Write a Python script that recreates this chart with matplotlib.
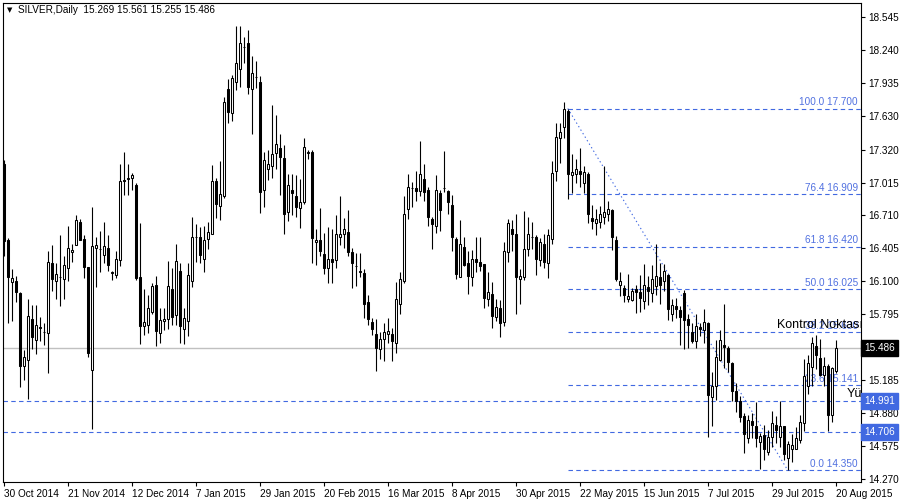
import matplotlib
matplotlib.use("Agg")
import matplotlib.pyplot as plt
import numpy as np

# SILVER daily OHLC, 30 Oct 2014 .. 20 Aug 2015
opens = [
    17.19, 16.48, 16.09, 16.10, 15.99, 15.32, 15.37, 15.75, 15.56, 15.68,
    15.63, 15.62, 16.27, 16.10, 16.14, 16.12, 16.22, 16.37, 16.44, 16.65,
    16.49, 16.23, 15.28, 16.41, 16.40, 16.34, 16.41, 16.18, 16.16, 16.30,
    17.04, 17.05, 17.06, 16.99, 16.14, 15.69, 15.70, 15.82, 16.07, 15.62,
    15.73, 15.75, 16.03, 15.79, 16.20, 15.66, 15.73, 16.10, 16.51, 16.51,
    16.31, 16.49, 16.54, 17.03, 16.80, 16.89, 17.88, 17.66, 17.95, 18.07,
    18.27, 18.31, 17.88, 17.99, 17.95, 16.95, 17.14, 17.17, 17.29, 17.33,
    17.24, 16.74, 16.95, 16.89, 16.78, 16.83, 17.29, 17.30, 16.46, 16.48,
    16.35, 16.22, 16.31, 16.30, 16.51, 16.54, 16.56, 16.37, 16.24, 16.19,
    16.18, 15.91, 15.72, 15.61, 15.47, 15.57, 15.61, 15.61, 15.53, 15.89,
    16.10, 16.77, 16.96, 16.96, 16.94, 17.05, 16.95, 16.68, 16.61, 16.92,
    16.96, 16.94, 16.81, 16.49, 16.14, 16.42, 16.27, 16.14, 16.31, 16.28,
    16.26, 15.94, 15.98, 15.77, 15.85, 15.72, 16.37, 16.58, 16.54, 16.12,
    16.14, 16.40, 16.51, 16.51, 16.30, 16.45, 16.27, 16.49, 17.12, 17.43,
    17.53, 17.68, 17.08, 17.09, 17.12, 17.01, 17.09, 16.69, 16.64, 16.65,
    16.70, 16.72, 16.76, 16.48, 16.07, 16.04, 15.94, 15.93, 16.03, 16.00,
    15.92, 16.05, 15.99, 16.06, 16.14, 16.10, 16.16, 15.80, 15.87, 15.83,
    15.99, 15.75, 15.63, 15.55, 15.68, 15.65, 15.71, 15.03, 15.13, 15.37,
    15.51, 15.48, 15.34, 15.08, 14.99, 14.85, 14.65, 14.81, 14.76, 14.61,
    14.68, 14.52, 14.66, 14.77, 14.66, 14.76, 14.46, 14.55, 14.55, 14.63,
    14.79, 15.13, 15.31, 15.50, 15.39, 15.23, 15.32, 14.86, 15.269,
]
highs = [
    17.22, 16.50, 16.21, 16.15, 16.00, 15.46, 15.94, 15.88, 15.88, 15.77,
    15.71, 16.38, 16.44, 16.27, 16.53, 16.33, 16.61, 16.45, 16.71, 16.68,
    16.53, 16.23, 16.79, 16.51, 16.57, 16.65, 16.53, 16.20, 16.38, 17.19,
    17.30, 17.19, 17.10, 17.01, 16.64, 16.03, 15.97, 16.08, 16.15, 15.85,
    15.85, 16.29, 16.22, 16.45, 16.27, 15.85, 16.27, 16.70, 16.63, 16.60,
    16.61, 16.65, 17.18, 17.06, 17.21, 17.81, 17.97, 18.01, 18.46, 18.46,
    18.36, 18.43, 18.19, 18.14, 18.00, 17.30, 17.32, 17.73, 17.64, 17.46,
    17.36, 17.09, 17.09, 17.08, 17.05, 17.43, 17.32, 17.32, 16.58, 16.78,
    16.55, 16.60, 16.58, 16.71, 16.89, 16.69, 16.76, 16.41, 16.36, 16.36,
    16.21, 15.97, 15.76, 15.75, 15.63, 15.71, 15.76, 15.67, 16.09, 16.19,
    16.89, 17.09, 17.02, 17.12, 17.40, 17.19, 16.97, 16.70, 17.08, 16.95,
    17.31, 16.95, 16.90, 16.51, 16.67, 16.51, 16.38, 16.39, 16.51, 16.51,
    16.26, 16.19, 16.09, 15.94, 15.93, 16.46, 16.68, 16.67, 16.72, 16.21,
    16.75, 16.70, 16.65, 16.53, 16.50, 16.54, 16.58, 17.21, 17.57, 17.57,
    17.76, 17.70, 17.28, 17.23, 17.33, 17.17, 17.11, 16.81, 16.77, 16.80,
    17.17, 16.84, 16.77, 16.52, 16.19, 16.07, 16.17, 16.04, 16.07, 16.16,
    16.26, 16.15, 16.25, 16.45, 16.27, 16.26, 16.17, 15.94, 15.95, 15.87,
    16.02, 15.80, 15.71, 15.80, 15.71, 15.84, 15.72, 15.26, 15.56, 15.65,
    15.89, 15.50, 15.35, 15.16, 15.04, 14.88, 14.86, 14.88, 14.98, 14.70,
    14.77, 14.72, 14.90, 14.85, 14.99, 14.76, 14.62, 14.69, 14.75, 14.86,
    15.38, 15.42, 15.58, 15.60, 15.57, 15.40, 15.33, 15.31, 15.561,
]
lows = [
    16.33, 15.71, 15.73, 15.91, 15.12, 15.19, 15.01, 15.47, 15.43, 15.55,
    15.51, 15.25, 16.01, 15.94, 15.87, 15.94, 16.10, 16.28, 16.44, 16.48,
    16.13, 15.40, 14.73, 16.05, 16.19, 16.27, 16.20, 16.11, 16.13, 16.24,
    16.90, 16.90, 16.95, 16.11, 15.52, 15.60, 15.62, 15.80, 15.50, 15.53,
    15.65, 15.66, 15.70, 15.70, 15.53, 15.52, 15.59, 16.05, 16.28, 16.27,
    16.19, 16.40, 16.54, 16.69, 16.67, 16.87, 17.57, 17.58, 17.87, 17.90,
    18.12, 17.83, 17.46, 17.89, 16.73, 16.79, 17.04, 17.06, 17.14, 16.90,
    16.54, 16.66, 16.71, 16.70, 16.59, 16.82, 17.23, 16.27, 16.25, 16.33,
    16.17, 16.08, 16.08, 16.22, 16.44, 16.41, 16.33, 16.04, 16.06, 16.14,
    15.76, 15.70, 15.60, 15.27, 15.38, 15.36, 15.53, 15.36, 15.44, 15.80,
    16.08, 16.68, 16.79, 16.84, 16.89, 16.84, 16.61, 16.40, 16.55, 16.57,
    16.93, 16.72, 16.38, 16.12, 16.14, 16.24, 15.98, 16.06, 16.19, 16.20,
    15.85, 15.87, 15.67, 15.73, 15.58, 15.69, 16.28, 16.38, 15.80, 15.89,
    16.11, 16.33, 16.40, 16.16, 16.24, 16.22, 16.13, 16.45, 17.03, 17.20,
    17.43, 16.86, 16.92, 17.01, 16.97, 16.92, 16.64, 16.58, 16.53, 16.59,
    16.63, 16.66, 16.39, 16.10, 15.96, 15.91, 15.91, 15.92, 15.81, 15.82,
    15.84, 15.88, 15.91, 15.97, 15.89, 16.01, 15.74, 15.73, 15.76, 15.51,
    15.47, 15.48, 15.53, 15.48, 15.59, 15.53, 14.66, 14.76, 15.00, 15.36,
    15.30, 15.26, 14.99, 14.89, 14.80, 14.51, 14.60, 14.65, 14.57, 14.36,
    14.45, 14.49, 14.57, 14.60, 14.57, 14.45, 14.35, 14.43, 14.55, 14.60,
    14.71, 15.06, 15.13, 15.29, 15.22, 15.13, 14.71, 14.80, 15.255,
]
closes = [
    16.47, 16.14, 16.13, 16.00, 15.32, 15.40, 15.78, 15.58, 15.70, 15.67,
    15.63, 16.28, 16.12, 16.17, 16.14, 16.25, 16.41, 16.39, 16.67, 16.48,
    16.23, 15.44, 16.43, 16.44, 16.40, 16.43, 16.25, 16.18, 16.31, 17.03,
    17.03, 17.05, 17.08, 16.13, 15.69, 15.72, 15.85, 16.06, 15.64, 15.74,
    15.75, 16.06, 15.77, 16.29, 15.69, 15.76, 16.16, 16.51, 16.51, 16.34,
    16.48, 16.56, 17.03, 16.82, 16.91, 17.76, 17.67, 17.98, 18.12, 18.31,
    18.27, 17.90, 18.03, 17.99, 16.93, 17.22, 17.19, 17.28, 17.37, 17.25,
    16.72, 16.99, 16.92, 16.79, 16.83, 17.34, 17.29, 16.50, 16.48, 16.38,
    16.22, 16.31, 16.28, 16.54, 16.54, 16.58, 16.37, 16.27, 16.24, 16.19,
    15.89, 15.75, 15.66, 15.48, 15.57, 15.63, 15.64, 15.55, 15.94, 16.12,
    16.72, 16.97, 16.96, 16.94, 17.09, 16.93, 16.70, 16.63, 16.95, 16.76,
    16.96, 16.83, 16.51, 16.17, 16.45, 16.25, 16.15, 16.31, 16.28, 16.24,
    15.95, 16.00, 15.78, 15.86, 15.71, 16.38, 16.64, 16.54, 16.14, 16.15,
    16.40, 16.54, 16.51, 16.31, 16.46, 16.28, 16.53, 17.10, 17.44, 17.48,
    17.70, 17.09, 17.11, 17.14, 17.09, 17.11, 16.72, 16.66, 16.68, 16.72,
    16.74, 16.77, 16.51, 16.12, 16.10, 15.97, 15.96, 16.01, 16.00, 15.95,
    16.07, 16.01, 16.12, 16.15, 16.07, 16.20, 15.84, 15.88, 15.84, 15.77,
    15.74, 15.70, 15.55, 15.69, 15.66, 15.72, 15.05, 15.13, 15.40, 15.56,
    15.49, 15.35, 15.08, 14.99, 14.84, 14.69, 14.82, 14.77, 14.65, 14.67,
    14.55, 14.66, 14.79, 14.72, 14.76, 14.50, 14.59, 14.58, 14.65, 14.80,
    15.22, 15.34, 15.53, 15.42, 15.23, 15.32, 14.86, 15.30, 15.486,
]

date_labels = [
    "30 Oct 2014", "21 Nov 2014", "12 Dec 2014", "7 Jan 2015", "29 Jan 2015",
    "20 Feb 2015", "16 Mar 2015", "8 Apr 2015", "30 Apr 2015", "22 May 2015",
    "15 Jun 2015", "7 Jul 2015", "29 Jul 2015", "20 Aug 2015",
]
price_ticks = [18.545, 18.240, 17.935, 17.630, 17.320, 17.015, 16.710, 16.405,
               16.100, 15.795, 15.185, 14.880, 14.575, 14.270]

fib_pct = [0.0, 23.6, 38.2, 50.0, 61.8, 76.4, 100.0]
fib_price = [14.350, 15.141, 15.630, 16.025, 16.420, 16.909, 17.700]
fib_start_bar = 141
fib_end_bar = 196
last_price = 15.486
level_lines = [14.991, 14.706]

BLUE = "#4169e1"
plt.rcParams["font.family"] = ["Liberation Sans", "DejaVu Sans"]

o = np.array(opens)
h = np.array(highs)
l = np.array(lows)
c = np.array(closes)
x = np.arange(len(o))

fig = plt.figure(figsize=(9, 5), dpi=100)
ax = fig.add_axes([3 / 900, 18 / 500, 858 / 900, 479 / 500])
ax.set_xlim(-0.2, -0.2 + 858 / 4)
ax.set_ylim(14.242, 18.677)

# level lines
ax.axhline(last_price, color="#c0c0c0", lw=1, zorder=1)
for lv in level_lines:
    ax.axhline(lv, color=BLUE, lw=0.8, ls=(0, (4, 3)), zorder=1)

# fibonacci retracement
x_right = ax.get_xlim()[1]
ax.hlines(fib_price, fib_start_bar, x_right, color=BLUE, lw=0.8, ls=(0, (4, 3)), zorder=1)
ax.plot([fib_start_bar, fib_end_bar], [fib_price[-1], fib_price[0]],
        color=BLUE, lw=0.8, ls=(0, (1.2, 2.5)), zorder=1)
for pct, pr in zip(fib_pct, fib_price):
    ax.text(x_right - 0.8, pr + 0.012, f"{pct:.1f} {pr:.3f}", color="#5070e0",
            fontsize=7.2, ha="right", va="bottom", zorder=2)

# candles
up = c >= o
ax.vlines(x, l, h, color="black", lw=0.8, zorder=3)
body_bottom = np.minimum(o, c)
body_height = np.maximum(np.abs(c - o), 0.003)
ax.bar(x, body_height, bottom=body_bottom, width=0.6,
       color=np.where(up, "white", "black"), edgecolor="black", linewidth=0.75, zorder=4)

# annotations
ax.text(193.3, 15.70, "Kontrol Noktası", fontsize=9, color="black", va="center",
        ha="left", clip_on=True, zorder=5)
ax.text(210.7, 15.06, "Yü", fontsize=9, color="black", va="center",
        ha="left", clip_on=True, zorder=5)

ax.text(0.0045, 0.986, "\u25bc", transform=ax.transAxes, fontsize=5,
        family=["DejaVu Sans"], va="center", ha="left")
ax.text(0.0175, 0.986, "SILVER,Daily  15.269 15.561 15.255 15.486",
        transform=ax.transAxes, fontsize=7.2, va="center", ha="left")

# axes
ax.yaxis.tick_right()
ax.set_yticks(price_ticks)
ax.set_yticklabels([f"{t:.3f}" for t in price_ticks])
ax.set_xticks(range(0, len(o), 16))
ax.set_xticklabels(date_labels)
for t in ax.get_xticklabels():
    t.set_ha("left")
ax.tick_params(axis="both", direction="out", length=3, width=0.8, labelsize=7.2, pad=2)
for s in ax.spines.values():
    s.set_linewidth(0.8)

# price boxes on the right scale
ytr = ax.get_yaxis_transform()
ax.text(1.004, last_price, f"{last_price:.3f}", transform=ytr, color="white",
        fontsize=7.2, va="center", ha="left",
        bbox=dict(boxstyle="square,pad=0.3", fc="black", ec="black"))
for lv in level_lines:
    ax.text(1.004, lv, f"{lv:.3f}", transform=ytr, color="white", fontsize=7.2,
            va="center", ha="left",
            bbox=dict(boxstyle="square,pad=0.3", fc=BLUE, ec=BLUE))

fig.savefig("out.png", dpi=100)
